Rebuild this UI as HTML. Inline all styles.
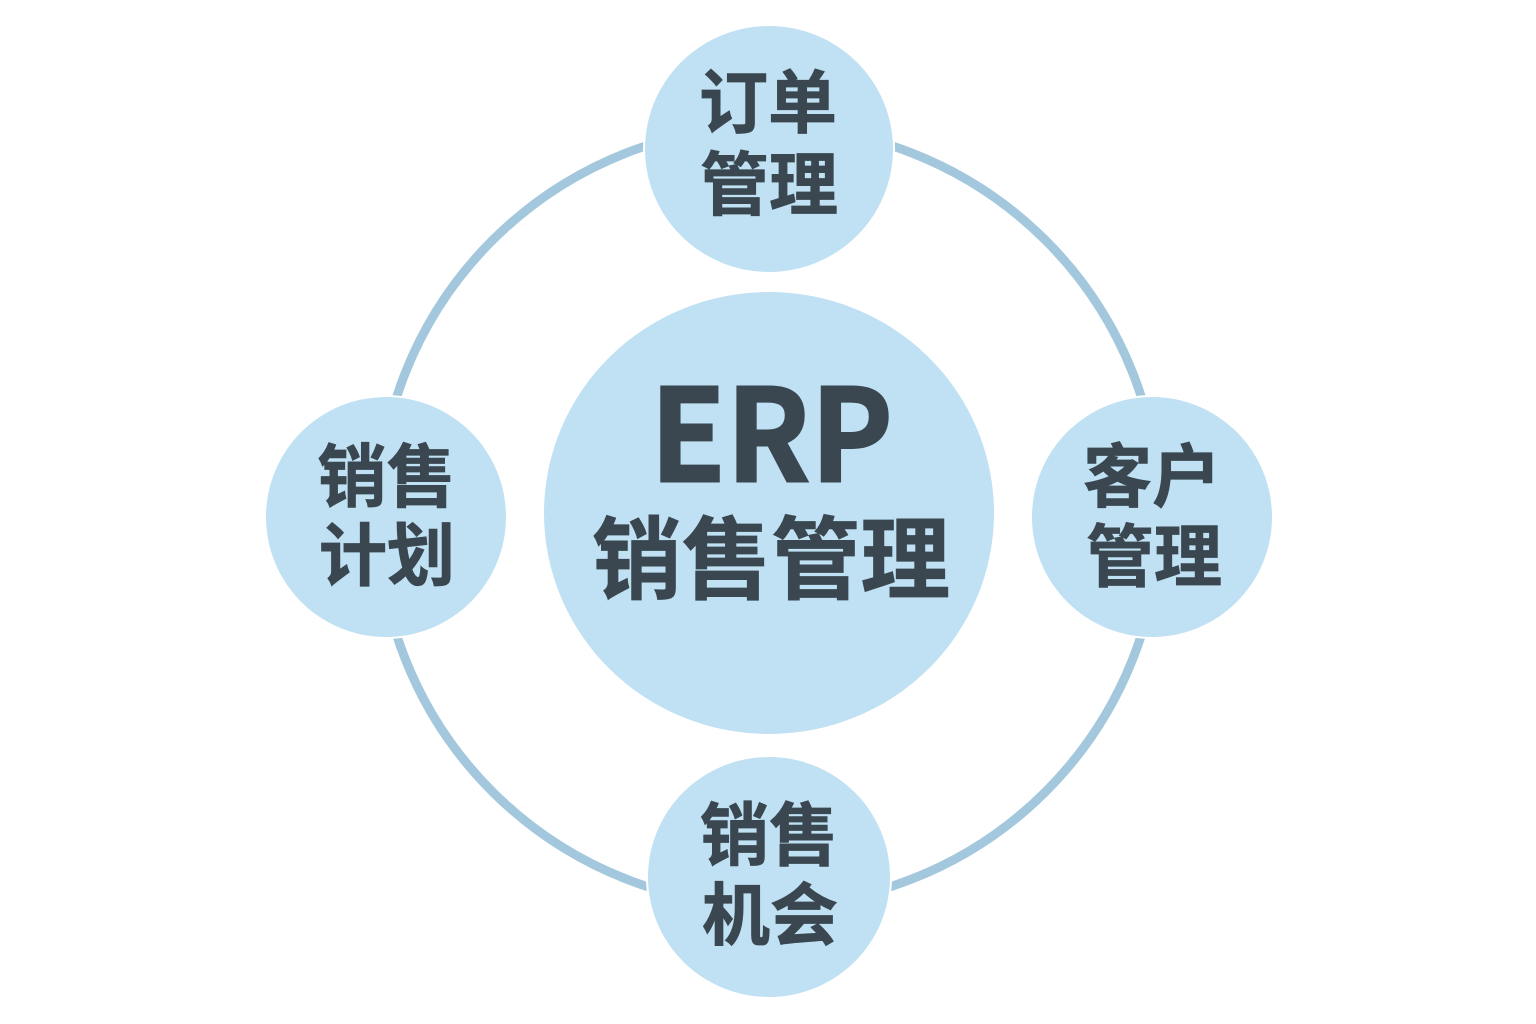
<!DOCTYPE html>
<html lang="zh"><head><meta charset="utf-8"><style>
html,body{margin:0;padding:0;background:#fff}
svg{display:block}
text{font-family:"Noto Sans CJK SC","Liberation Sans",sans-serif;font-weight:700;fill:#3a4750;stroke:#3a4750;stroke-width:0.8px;paint-order:stroke}
</style></head><body>
<svg width="1536" height="1024" viewBox="0 0 1536 1024" xmlns="http://www.w3.org/2000/svg">
<rect width="1536" height="1024" fill="#fff"/>
<ellipse cx="769" cy="516" rx="391" ry="390" fill="none" stroke="#a3c8de" stroke-width="9"/>
<g fill="#fff">
<ellipse cx="769" cy="149" rx="126" ry="125"/>
<ellipse cx="386" cy="517" rx="122" ry="122"/>
<ellipse cx="1152" cy="517" rx="122" ry="122"/>
<ellipse cx="769" cy="877" rx="123" ry="122"/>
</g>
<g fill="#bfe1f3">
<ellipse cx="769" cy="513" rx="225" ry="221"/>
<ellipse cx="769" cy="149" rx="124" ry="123"/>
<ellipse cx="386" cy="517" rx="120" ry="120"/>
<ellipse cx="1152" cy="517" rx="120" ry="120"/>
<ellipse cx="769" cy="877" rx="121" ry="120"/>
</g>
<text x="771.5" y="481.5" font-size="128" text-anchor="middle" textLength="243" lengthAdjust="spacingAndGlyphs" style="stroke-width:2px">ERP</text>
<text x="771" y="591.5" font-size="90" text-anchor="middle" textLength="358" lengthAdjust="spacingAndGlyphs">销售管理</text>
<text x="768" y="127" font-size="69" text-anchor="middle">订单</text>
<text x="769" y="209" font-size="69" text-anchor="middle">管理</text>
<text x="386.5" y="501" font-size="69" text-anchor="middle">销售</text>
<text x="387" y="580" font-size="68" text-anchor="middle">计划</text>
<text x="1152" y="501" font-size="69" text-anchor="middle">客户</text>
<text x="1154" y="581" font-size="68" text-anchor="middle">管理</text>
<text x="769" y="859.5" font-size="69" text-anchor="middle">销售</text>
<text x="770" y="939.5" font-size="68" text-anchor="middle">机会</text>
</svg>
</body></html>
